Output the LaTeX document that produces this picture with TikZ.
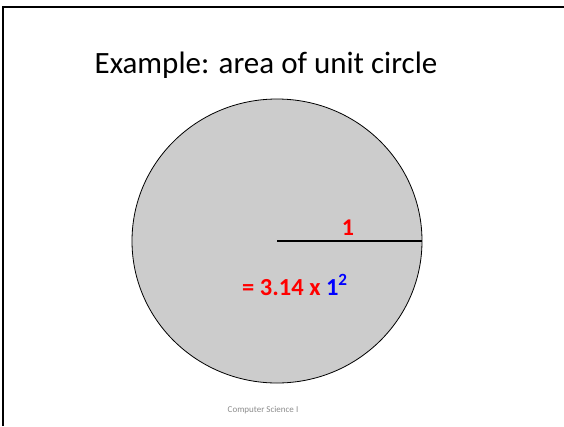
\documentclass[tikz,border=0pt]{standalone}
\usepackage{fontspec}
\setmainfont{Carlito}
\usepackage{xcolor}
\usetikzlibrary{positioning}

\begin{document}
\begin{tikzpicture}[x=1pt,y=-1pt]
      \def\rx{145}
      \def\ry{142}
      \useasboundingbox (0,0) rectangle (564,426);
      % Draw the frame
      \draw[line width=2pt] (3,426) -- (3,7) -- (564,7);
      % Title
      \node[anchor=base] (title) at (266,73) {\fontsize{31}{36}\selectfont Example: area of unit circle};
      % Draw the circle
      \coordinate (O) at (277,241);
      \coordinate (rim) at (277+\rx,241);
      \filldraw[fill=gray!40, draw=black, line width=0.8pt] (O) ellipse ({\rx} and {\ry});
      % radius
      \draw[line width=2pt] (O) -- (rim);
      \node[text=red, anchor=base] (one) at (348,235) {\fontsize{24}{28}\selectfont\bfseries 1};
      \node[text=red, anchor=base west, inner sep=0pt] (area) at (242,295) {\fontsize{24.5}{28}\selectfont\bfseries = 3.14 x \textcolor{blue}{1\textsuperscript{2}}};
      % footer
      \node[text=gray!90] (foot) at (263,410) {\fontsize{9}{11}\selectfont Computer Science I};
\end{tikzpicture}
\end{document}
